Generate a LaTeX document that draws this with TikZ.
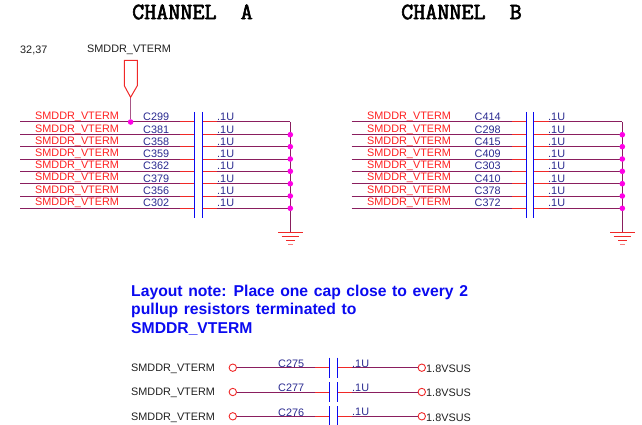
\documentclass[tikz,border=0pt]{standalone}
\usepackage{fontspec}
\setmainfont{Liberation Sans}
\newfontfamily\titlefont[FakeBold=2.5]{Latin Modern Mono}
\newcommand\notesp{\spaceskip=5.6pt\relax}
\definecolor{wirec}{HTML}{8A1E5E}
\definecolor{refc}{HTML}{2A2A90}
\definecolor{stubc}{HTML}{F02828}
\definecolor{platec}{HTML}{0A0AF0}
\definecolor{dotc}{HTML}{FF00E6}
\definecolor{labc}{HTML}{FF2020}
\definecolor{txtc}{HTML}{202020}
\tikzset{
  wire/.style={draw=wirec,line width=1pt},
  stub/.style={draw=stubc,line width=1pt},
  plate/.style={draw=platec,line width=1pt},
  gbar/.style={draw=stubc,line width=1pt},
  jdot/.style={circle,fill=dotc,inner sep=0pt,minimum size=5.6pt},
  term/.style={circle,draw=stubc,line width=0.9pt,fill=white,inner sep=0pt,minimum size=7.4pt},
  base/.style={inner sep=0pt,yshift=-1pt,font=\fontsize{10.85pt}{12pt}\selectfont},
  netlab/.style={base,text=labc,anchor=west},
  reflab/.style={base,text=refc,anchor=west},
  blacklab/.style={base,text=txtc,anchor=west},
  chan/.style={inner sep=0pt,anchor=west,text=black,font=\titlefont\fontsize{23.4pt}{25pt}\selectfont},
  note/.style={inner sep=0pt,anchor=north west,align=left,text=platec,font=\bfseries\fontsize{15.7pt}{18.5pt}\selectfont}
}
\begin{document}
\begin{tikzpicture}[x=1pt,y=-1pt]
\useasboundingbox (0,0) rectangle (642,425);
\node[chan] (titleA) at (132,12) {CHANNEL\ \ A};
\node[chan] (titleB) at (401,12) {CHANNEL\ \ B};
\node[blacklab] (refs) at (20,49) {32,37};
\node[blacklab] (pinlab) at (87,49) {SMDDR\_VTERM};
% channel A
\foreach \i/\y/\ly/\ry/\cn in {1/122/116/116/C299,2/134.7/128.3/129/C381,3/146.7/140.3/141/C358,4/159/153/153/C359,5/171.3/165/165/C362,6/183.7/177/178/C379,7/196/190/190/C356,8/208.3/202/202/C302}{
  \coordinate (al\i) at (20,\y);
  \coordinate (as\i) at (180,\y);
  \coordinate (ap\i) at (194.3,\y);
  \coordinate (aq\i) at (202.3,\y);
  \coordinate (at\i) at (217,\y);
  \coordinate (ar\i) at (290.3,\y);
  \draw[wire] (al\i) -- (as\i);
  \draw[stub] (as\i) -- (ap\i);
  \draw[stub] (aq\i) -- (at\i);
  \draw[wire] (at\i) -- (ar\i);
  \node[netlab] (an\i) at (35,\ly) {SMDDR\_VTERM};
  \node[reflab] (ac\i) at (143,\ry) {\cn};
  \node[reflab] (av\i) at (217,\ry) {.1U};
}
\coordinate (apt) at (194.3,112); \coordinate (apb) at (194.3,218.3);
\coordinate (aqt) at (202.3,112); \coordinate (aqb) at (202.3,218.3);
\draw[plate] (apt) -- (apb);
\draw[plate] (aqt) -- (aqb);
\coordinate (ag) at (290.3,232.7);
\draw[wire] (ar1) -- (ag);
\foreach \i in {2,...,8}{\node[jdot] at (ar\i) {};}
\draw[gbar] (278,232.7) -- (302.7,232.7);
\draw[gbar] (281.7,236.5) -- (299,236.5);
\draw[gbar] (286,240.2) -- (295,240.2);
\draw[gbar,stubc!60] (288.3,244) -- (292.7,244);
% supply pin
\coordinate (pintip) at (130.6,97.3);
\node[jdot] (pinj) at (130.6,122) {};
\draw[draw=wirec!75!white,line width=1pt] (pintip) -- (pinj);
\draw[stub,line join=miter] (124.3,60.3) -- (137.3,60.3) -- (137.3,85.7) -- (pintip) -- (124.3,85.7) -- cycle;
% channel B
\foreach \i/\y/\ly/\ry/\cn in {1/122/116/116/C414,2/134.7/128.3/129/C298,3/146.7/140.3/141/C415,4/159/153/153/C409,5/171.3/165/165/C303,6/183.7/177/178/C410,7/196/190/190/C378,8/208.3/202/202/C372}{
  \coordinate (bl\i) at (351.7,\y);
  \coordinate (bs\i) at (512,\y);
  \coordinate (bp\i) at (526.3,\y);
  \coordinate (bq\i) at (533.7,\y);
  \coordinate (bt\i) at (549,\y);
  \coordinate (br\i) at (622.3,\y);
  \draw[wire] (bl\i) -- (bs\i);
  \draw[stub] (bs\i) -- (bp\i);
  \draw[stub] (bq\i) -- (bt\i);
  \draw[wire] (bt\i) -- (br\i);
  \node[netlab] (bn\i) at (367,\ly) {SMDDR\_VTERM};
  \node[reflab] (bc\i) at (474.5,\ry) {\cn};
  \node[reflab] (bv\i) at (548,\ry) {.1U};
}
\coordinate (bpt) at (526.3,112); \coordinate (bpb) at (526.3,218.3);
\coordinate (bqt) at (533.7,112); \coordinate (bqb) at (533.7,218.3);
\draw[plate] (bpt) -- (bpb);
\draw[plate] (bqt) -- (bqb);
\coordinate (bg) at (622.3,232.7);
\draw[wire] (br1) -- (bg);
\foreach \i in {2,...,8}{\node[jdot] at (br\i) {};}
\draw[gbar] (610,232.7) -- (634.7,232.7);
\draw[gbar] (613.7,236.5) -- (631,236.5);
\draw[gbar] (618,240.2) -- (627,240.2);
\draw[gbar,stubc!60] (620.3,244) -- (624.7,244);
% note
\node[note] (layoutnote) at (131,284.5) {\notesp Layout note: Place one cap close to every 2\\\notesp pullup resistors terminated to\\SMDDR\_VTERM};
% bottom caps
\foreach \i/\y/\cn in {1/367.7/C275,2/392/C277,3/416.3/C276}{
  \node[blacklab] (ln\i) at (131,\y) {SMDDR\_VTERM};
  \node[term] (lt\i) at (232.8,\y) {};
  \node[term] (rt\i) at (421.8,\y) {};
  \node[blacklab] (rn\i) at (426,\y) {1.8VSUS};
  \coordinate (cs\i) at (315,\y);
  \coordinate (cp\i) at (329.7,\y);
  \coordinate (cq\i) at (337.5,\y);
  \coordinate (ct\i) at (352,\y);
  \draw[wire] (lt\i) -- (cs\i);
  \draw[stub] (cs\i) -- (cp\i);
  \draw[stub] (cq\i) -- (ct\i);
  \draw[wire] (ct\i) -- (rt\i);
  \draw[plate] (329.7,\y-10) -- (329.7,\y+10);
  \draw[plate] (337.5,\y-10) -- (337.5,\y+10);
  \node[reflab] (cc\i) at (278,\y-5) {\cn};
  \node[reflab] (cv\i) at (352,\y-5) {.1U};
}
\end{tikzpicture}
\end{document}
